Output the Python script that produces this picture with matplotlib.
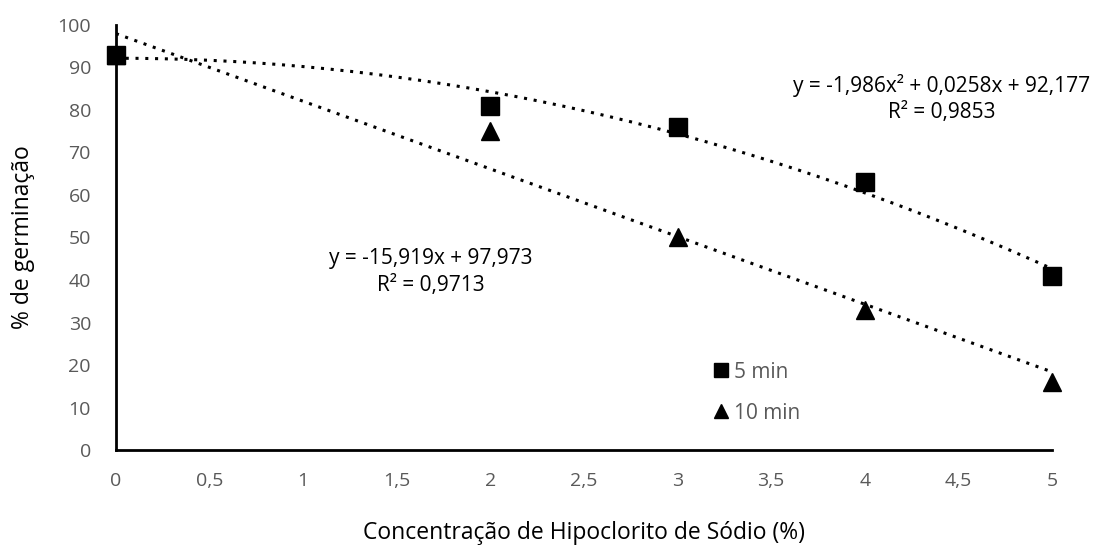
import numpy as np
import matplotlib
matplotlib.use("Agg")
import matplotlib.pyplot as plt
from matplotlib.ticker import FuncFormatter

# data
conc = [0, 2, 3, 4, 5]
germ_5min = [93, 81, 76, 63, 41]
germ_10min = [93, 75, 50, 33, 16]
xticks = [0, 0.5, 1, 1.5, 2, 2.5, 3, 3.5, 4, 4.5, 5]
yticks = [0, 10, 20, 30, 40, 50, 60, 70, 80, 90, 100]
eq_5min = "y = -1,986x² + 0,0258x + 92,177\nR² = 0,9853"
eq_10min = "y = -15,919x + 97,973\nR² = 0,9713"

plt.rcParams['font.family'] = ['Open Sans', 'DejaVu Sans']
gray = '#595959'

fig = plt.figure(figsize=(10.98, 5.54), dpi=100)
ax = fig.add_axes([0.1056, 0.1877, 0.8525, 0.7672])

# trend lines
xx = np.linspace(0, 5, 200)
p5 = np.polyfit(conc, germ_5min, 2)
p10 = np.polyfit(conc, germ_10min, 1)
ax.plot(xx, np.polyval(p5, xx), color='black', linestyle=(0, (1, 2.2)), lw=2.2, zorder=2)
ax.plot(xx, np.polyval(p10, xx), color='black', linestyle=(0, (1, 2.2)), lw=2.2, zorder=2)

# points
ax.plot(conc, germ_10min, '^', color='black', markersize=13, linestyle='none',
        label='10 min', zorder=3, clip_on=False)
ax.plot(conc, germ_5min, 's', color='black', markersize=12.5, linestyle='none',
        label='5 min', zorder=4, clip_on=False)

ax.set_xlim(0, 5)
ax.set_ylim(0, 100)
ax.set_xticks(xticks)
ax.set_yticks(yticks)
ax.xaxis.set_major_formatter(FuncFormatter(lambda v, p: ('%g' % v).replace('.', ',')))
ax.tick_params(length=0, labelsize=14, labelcolor=gray)
ax.tick_params(axis='x', pad=16)
ax.tick_params(axis='y', pad=18)
for s in ['top', 'right']:
    ax.spines[s].set_visible(False)
for s in ['left', 'bottom']:
    ax.spines[s].set_linewidth(2)

ax.set_xlabel('Concentração de Hipoclorito de Sódio (%)', fontsize=16.5, labelpad=22)
ax.set_ylabel('% de germinação', fontsize=16.5, labelpad=16)

ax.text(4.41, 82.7, eq_5min, ha='center', va='center', fontsize=15, linespacing=1.35)
ax.text(1.68, 41.9, eq_10min, ha='center', va='center', fontsize=15, linespacing=1.35)

handles, labels = ax.get_legend_handles_labels()
leg = ax.legend(handles[::-1], labels[::-1], loc='center left', bbox_to_anchor=(0.62, 0.135),
                frameon=False, fontsize=15, handlelength=0.6, handletextpad=0.3,
                labelspacing=0.95, markerscale=0.8)
for t in leg.get_texts():
    t.set_color(gray)

fig.savefig('out.png', dpi=100)
